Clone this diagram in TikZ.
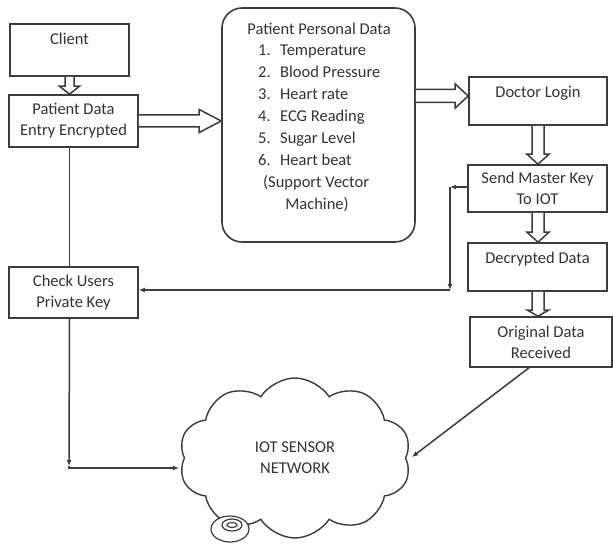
\documentclass[tikz,border=0pt]{standalone}
\usepackage{fontspec}
\setmainfont{Carlito}
\usetikzlibrary{shapes.symbols,arrows.meta,calc}
\definecolor{ln}{HTML}{3C3C3C}
\definecolor{tx}{HTML}{333333}
\newcommand{\myfatH}[5]{\draw[fatarrow] ($(#1)+(0,-#3)$) -- ($(#2)+(-#5,-#3)$) -- ($(#2)+(-#5,-#4)$) -- (#2) -- ($(#2)+(-#5,#4)$) -- ($(#2)+(-#5,#3)$) -- ($(#1)+(0,#3)$);}
\newcommand{\myfatV}[5]{\draw[fatarrow] ($(#1)+(-#3,0)$) -- ($(#2)+(-#3,-#5)$) -- ($(#2)+(-#4,-#5)$) -- (#2) -- ($(#2)+(#4,-#5)$) -- ($(#2)+(#3,-#5)$) -- ($(#1)+(#3,0)$);}
\begin{document}
\begin{tikzpicture}[x=1pt,y=-1pt,
  txtfont/.style={font=\fontsize{16.5}{21}\selectfont},
  box/.style={draw=ln, line width=1.6pt, text=tx, align=center, txtfont, inner sep=0pt},
  plain/.style={text=tx, txtfont, inner sep=0pt},
  fatarrow/.style={draw=ln, line width=1.5pt, fill=white, line join=miter},
  conn/.style={draw=ln, line width=1.5pt},
  tip/.style={-{Latex[length=6pt,width=5pt]}}]
\useasboundingbox[fill=white] (0,0) rectangle (613,545);

% boxes
\node[box, minimum width=119pt, minimum height=52pt] (client) at (69.5,50) {Client\\[2pt]~};
\node[box, minimum width=129pt, minimum height=52pt] (pde) at (73.5,121) {Patient Data\\Entry Encrypted};
\node[box, minimum width=129pt, minimum height=51pt] (cupk) at (73.5,292.5) {Check Users\\Private Key};
\node[box, rounded corners=20pt, minimum width=193pt, minimum height=234pt] (ppd) at (318.5,125) {};
\node[box, minimum width=138pt, minimum height=48pt] (doc) at (538,101) {Doctor Login\\[-2pt]~};
\node[box, minimum width=139pt, minimum height=47pt] (smk) at (537.5,188.5) {Send Master Key\\To IOT};
\node[box, minimum width=139pt, minimum height=48pt] (dec) at (537.5,267) {Decrypted Data\\[-2pt]~};
\node[box, minimum width=142pt, minimum height=50pt] (orig) at (541,342) {Original Data\\Received};

% text in patient personal data
\node[plain, anchor=mid] (t0) at (319,32) {Patient Personal Data};
\node[plain, anchor=mid west] (t1) at (258,53) {\makebox[22pt][l]{1.}Temperature};
\node[plain, anchor=mid west] (t2) at (258,75) {\makebox[22pt][l]{2.}Blood Pressure};
\node[plain, anchor=mid west] (t3) at (258,97) {\makebox[22pt][l]{3.}Heart rate};
\node[plain, anchor=mid west] (t4) at (258,119) {\makebox[22pt][l]{4.}ECG Reading};
\node[plain, anchor=mid west] (t5) at (258,141) {\makebox[22pt][l]{5.}Sugar Level};
\node[plain, anchor=mid west] (t6) at (258,163) {\makebox[22pt][l]{6.}Heart beat};
\node[plain, anchor=mid west] (t7) at (263,185) {(Support Vector};
\node[plain, anchor=mid] (t8) at (317,207) {Machine)};

% cloud and thought bubble
\node[cloud, cloud puffs=10, cloud puff arc=115, aspect=1.45, draw=ln, fill=white,
      line width=1.4pt, minimum width=232pt, minimum height=160pt, inner sep=0pt,
      text=tx, align=center, txtfont] (cloud) at (295,458) {IOT SENSOR\\NETWORK};
\draw[conn, line width=1.2pt, fill=white] (230,529) ellipse [x radius=19pt, y radius=13pt];
\draw[conn, line width=1.2pt] (232,525) ellipse [x radius=10pt, y radius=6pt];
\draw[conn, line width=1.2pt] (232,525) ellipse [x radius=5pt, y radius=2.5pt];

% hollow arrows
\coordinate (a1t) at (pde.north -| client.south);
\myfatV{client.south}{a1t}{4.5}{10}{8}
\coordinate (a2t) at (pde.east -| ppd.west);
\myfatH{pde.east}{a2t}{6}{11.5}{22}
\coordinate (a3t) at ($(doc.west)+(0,-5)$);
\coordinate (a3s) at (a3t -| ppd.east);
\myfatH{a3s}{a3t}{6.5}{12}{13}
\coordinate (a4t) at (smk.north -| doc.south);
\myfatV{doc.south}{a4t}{6}{11}{10}
\coordinate (a5s) at (smk.south -| doc.south);
\coordinate (a5t) at (dec.north -| doc.south);
\myfatV{a5s}{a5t}{6}{11}{10}
\coordinate (a6s) at (dec.south -| doc.south);
\coordinate (a6t) at (orig.north -| doc.south);
\myfatV{a6s}{a6t}{6}{10.5}{6}

% line connectors
\draw[conn] (pde.south -| client.south) -- (cupk.north -| client.south);
\coordinate (k1) at (450,187);
\coordinate (k2) at (450,290);
\coordinate (k3) at (cupk.east |- k2);
\draw[conn, tip] (smk.west |- k1) -- (k1);
\draw[conn, tip] (k1) -- (k2);
\draw[conn, tip] (k2) -- (k3);
\coordinate (k4) at (cupk.south -| client.south);
\coordinate (k5) at (69,466);
\coordinate (k6) at (179,468);
\draw[conn, tip] (k4) -- (k5);
\draw[conn, tip] (k5) |- (k6);
\coordinate (k7) at (530,367);
\coordinate (k8) at (412,457);
\draw[conn, tip] (k7) -- (k8);
\end{tikzpicture}
\end{document}
